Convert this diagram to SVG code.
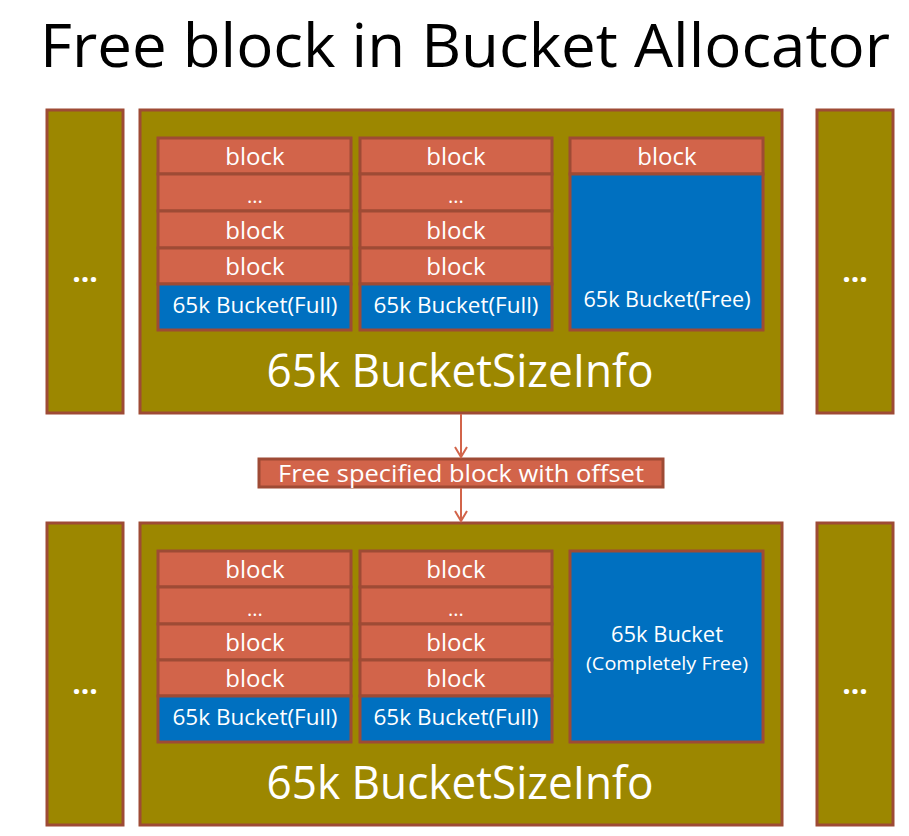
<svg xmlns="http://www.w3.org/2000/svg" width="909" height="836" viewBox="0 0 909 836">
<defs>
<style>
.olive{fill:#9C8700;stroke:#9E4B35;stroke-width:3}
.red{fill:#D2644A;stroke:#9E4B35;stroke-width:3}
.blue{fill:#0070C0;stroke:#9E4B35;stroke-width:3}
text{font-family:"Open Sans","Noto Sans","Liberation Sans",sans-serif;fill:#FFFFFF;text-anchor:middle}
.blk{font-size:24px}
.dots{font-size:20px}
.bk{font-size:21px}
.big{font-size:46px}
.side{font-size:30px;font-weight:bold}
.title{font-size:60px;fill:#000000}
.conn{stroke:#D2644A;stroke-width:2;fill:none}
</style>
<marker id="arr" markerWidth="14" markerHeight="14" refX="11" refY="7" orient="auto" markerUnits="userSpaceOnUse" viewBox="0 0 14 14">
<path d="M1,1 L11,7 L1,13" fill="none" stroke="#D2644A" stroke-width="2"/>
</marker>
</defs>
<rect width="909" height="836" fill="#FFFFFF"/>
<text class="title" x="465" y="67" textLength="850" lengthAdjust="spacingAndGlyphs">Free block in Bucket Allocator</text>

<g id="top-left-side"><rect class="olive" x="47" y="110" width="76" height="303"/><text class="side" x="85" y="282">...</text></g>
<g id="top-right-side"><rect class="olive" x="817" y="110" width="76" height="303"/><text class="side" x="855" y="282">...</text></g>
<g id="top-info">
<rect class="olive" x="140" y="110" width="642" height="303"/>
<text class="big" x="460" y="387" textLength="387" lengthAdjust="spacingAndGlyphs">65k BucketSizeInfo</text>
</g>
<g id="top-bucket1">
<rect class="red" x="158" y="138" width="193" height="36"/><text class="blk" x="255" y="165">block</text>
<rect class="red" x="158" y="174" width="193" height="37"/><text class="dots" x="255" y="203">...</text>
<rect class="red" x="158" y="211" width="193" height="37"/><text class="blk" x="255" y="239">block</text>
<rect class="red" x="158" y="248" width="193" height="36"/><text class="blk" x="255" y="275">block</text>
<rect class="blue" x="158" y="284" width="193" height="46"/><text class="bk" x="255" y="313" textLength="165" lengthAdjust="spacingAndGlyphs">65k Bucket(Full)</text>
</g>
<g id="top-bucket2">
<rect class="red" x="360" y="138" width="192" height="36"/><text class="blk" x="456" y="165">block</text>
<rect class="red" x="360" y="174" width="192" height="37"/><text class="dots" x="456" y="203">...</text>
<rect class="red" x="360" y="211" width="192" height="37"/><text class="blk" x="456" y="239">block</text>
<rect class="red" x="360" y="248" width="192" height="36"/><text class="blk" x="456" y="275">block</text>
<rect class="blue" x="360" y="284" width="192" height="46"/><text class="bk" x="456" y="313" textLength="165" lengthAdjust="spacingAndGlyphs">65k Bucket(Full)</text>
</g>
<g id="top-bucket3">
<rect class="red" x="570" y="138" width="193" height="36"/><text class="blk" x="667" y="165">block</text>
<rect class="blue" x="570" y="174" width="193" height="156"/><text class="bk" x="667" y="307" textLength="167" lengthAdjust="spacingAndGlyphs">65k Bucket(Free)</text>
</g>

<g id="action">
<rect class="red" x="259" y="459" width="404" height="28"/>
<text x="461" y="482" style="font-size:23px" textLength="366" lengthAdjust="spacingAndGlyphs">Free specified block with offset</text>
</g>

<g id="bottom-left-side"><rect class="olive" x="47" y="523" width="76" height="302"/><text class="side" x="85" y="694">...</text></g>
<g id="bottom-right-side"><rect class="olive" x="817" y="523" width="76" height="302"/><text class="side" x="855" y="694">...</text></g>
<g id="bottom-info">
<rect class="olive" x="140" y="523" width="642" height="302"/>
<text class="big" x="460" y="799" textLength="387" lengthAdjust="spacingAndGlyphs">65k BucketSizeInfo</text>
</g>
<g id="bottom-bucket1">
<rect class="red" x="158" y="551" width="193" height="36"/><text class="blk" x="255" y="578">block</text>
<rect class="red" x="158" y="587" width="193" height="37"/><text class="dots" x="255" y="616">...</text>
<rect class="red" x="158" y="624" width="193" height="36"/><text class="blk" x="255" y="651">block</text>
<rect class="red" x="158" y="660" width="193" height="36"/><text class="blk" x="255" y="687">block</text>
<rect class="blue" x="158" y="696" width="193" height="46"/><text class="bk" x="255" y="725" textLength="165" lengthAdjust="spacingAndGlyphs">65k Bucket(Full)</text>
</g>
<g id="bottom-bucket2">
<rect class="red" x="360" y="551" width="192" height="36"/><text class="blk" x="456" y="578">block</text>
<rect class="red" x="360" y="587" width="192" height="37"/><text class="dots" x="456" y="616">...</text>
<rect class="red" x="360" y="624" width="192" height="36"/><text class="blk" x="456" y="651">block</text>
<rect class="red" x="360" y="660" width="192" height="36"/><text class="blk" x="456" y="687">block</text>
<rect class="blue" x="360" y="696" width="192" height="46"/><text class="bk" x="456" y="725" textLength="165" lengthAdjust="spacingAndGlyphs">65k Bucket(Full)</text>
</g>
<g id="bottom-bucket3">
<rect class="blue" x="570" y="551" width="193" height="191"/>
<text class="bk" x="667" y="642" textLength="112" lengthAdjust="spacingAndGlyphs">65k Bucket</text>
<text class="bk" x="667" y="670" style="font-size:19px" textLength="162" lengthAdjust="spacingAndGlyphs">(Completely Free)</text>
</g>

<g id="connectors">
<line class="conn" x1="461" y1="414" x2="461" y2="457" marker-end="url(#arr)"/>
<line class="conn" x1="461" y1="488" x2="461" y2="521" marker-end="url(#arr)"/>
</g>
</svg>
